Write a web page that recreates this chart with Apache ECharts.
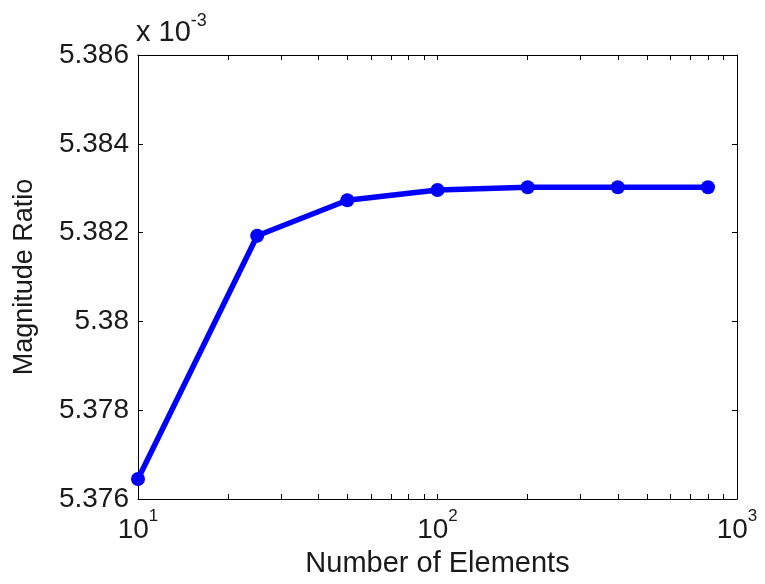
<!DOCTYPE html>
<html>
<head>
<meta charset="utf-8">
<script src="https://cdn.jsdelivr.net/npm/echarts@6/dist/echarts.min.js"></script>
<style>
html,body{margin:0;padding:0;background:#fff;}
#chart{width:765px;height:584px;}
</style>
</head>
<body>
<div id="chart"></div>
<script>
// Data (magnitude ratio shown in units of 1e-3)
const numElements = [10, 25, 50, 100, 200, 400, 800];
const magnitudeRatio = [5.37645, 5.38193, 5.38273, 5.38296, 5.38302, 5.38302, 5.38302];
const xMajorTicks = [10, 100, 1000];
const xAllTicks = [10,20,30,40,50,60,70,80,90,100,200,300,400,500,600,700,800,900,1000];
const yTickLabels = ['5.376', '5.378', '5.38', '5.382', '5.384', '5.386'];
const yMin = 5.376, yMax = 5.386, yStep = 0.002;

const FONT = 'Liberation Sans, Arial, sans-serif';
const chart = echarts.init(document.getElementById('chart'), null, {renderer: 'canvas'});

const supRich = {
  base: {fontSize: 28, fontFamily: FONT, fontWeight: 'normal', color: '#1a1a1a', lineHeight: 44},
  sup: {fontSize: 17, fontFamily: FONT, fontWeight: 'normal', color: '#1a1a1a', lineHeight: 17, verticalAlign: 'top'}
};

function yLabel(v) {
  const idx = Math.round((v - yMin) / yStep);
  return yTickLabels[idx] !== undefined ? yTickLabels[idx] : '';
}

const option = {
  backgroundColor: '#fff',
  animation: false,
  graphic: [{
    type: 'text',
    left: 136,
    top: 12,
    style: {
      text: '{base|x 10}{sup|-3}',
      rich: {
        base: {fontSize: 29, fontFamily: FONT, fontWeight: 'normal', fill: '#1a1a1a', lineHeight: 42},
        sup: {fontSize: 18, fontFamily: FONT, fontWeight: 'normal', fill: '#1a1a1a', lineHeight: 18, verticalAlign: 'top'}
      }
    }
  }],
  grid: {left: 138, right: 28, top: 55, bottom: 85, containLabel: false},
  xAxis: [{
    type: 'log', logBase: 10, min: 10, max: 1000,
    position: 'bottom',
    name: 'Number of Elements', nameLocation: 'middle', nameGap: 50,
    nameTextStyle: {fontSize: 29, fontFamily: FONT, color: '#1a1a1a', verticalAlign: 'top'},
    axisLine: {show: true, onZero: false, lineStyle: {color: '#000', width: 1}},
    axisTick: {show: true, inside: true, length: 5, customValues: xAllTicks, lineStyle: {color: '#000'}},
    axisLabel: {
      show: true, margin: 9, customValues: xMajorTicks,
      formatter: function (v) { return '{base|10}{sup|' + Math.round(Math.log10(v)) + '}'; },
      rich: supRich
    },
    splitLine: {show: false}, minorTick: {show: false}
  }, {
    type: 'log', logBase: 10, min: 10, max: 1000,
    position: 'top',
    axisLine: {show: true, onZero: false, lineStyle: {color: '#000', width: 1}},
    axisTick: {show: true, inside: true, length: 5, customValues: xAllTicks, lineStyle: {color: '#000'}},
    axisLabel: {show: false},
    splitLine: {show: false}
  }],
  yAxis: [{
    type: 'value', min: yMin, max: yMax, interval: yStep,
    position: 'left',
    name: 'Magnitude Ratio', nameLocation: 'middle', nameGap: 100,
    nameTextStyle: {fontSize: 27, fontFamily: FONT, color: '#1a1a1a'},
    axisLine: {show: true, onZero: false, lineStyle: {color: '#000', width: 1}},
    axisTick: {show: true, inside: true, length: 5, lineStyle: {color: '#000'}},
    axisLabel: {show: true, margin: 9, fontSize: 28, fontFamily: FONT, color: '#1a1a1a', formatter: yLabel},
    splitLine: {show: false}
  }, {
    type: 'value', min: yMin, max: yMax, interval: yStep,
    position: 'right',
    axisLine: {show: true, onZero: false, lineStyle: {color: '#000', width: 1}},
    axisTick: {show: true, inside: true, length: 5, lineStyle: {color: '#000'}},
    axisLabel: {show: false},
    splitLine: {show: false}
  }],
  series: [{
    type: 'line',
    xAxisIndex: 0, yAxisIndex: 0,
    data: numElements.map((n, i) => [n, magnitudeRatio[i]]),
    symbol: 'circle', symbolSize: 14,
    lineStyle: {color: '#0000ff', width: 5.5},
    itemStyle: {color: '#0000ff'},
    clip: false
  }]
};
chart.setOption(option);
</script>
</body>
</html>
